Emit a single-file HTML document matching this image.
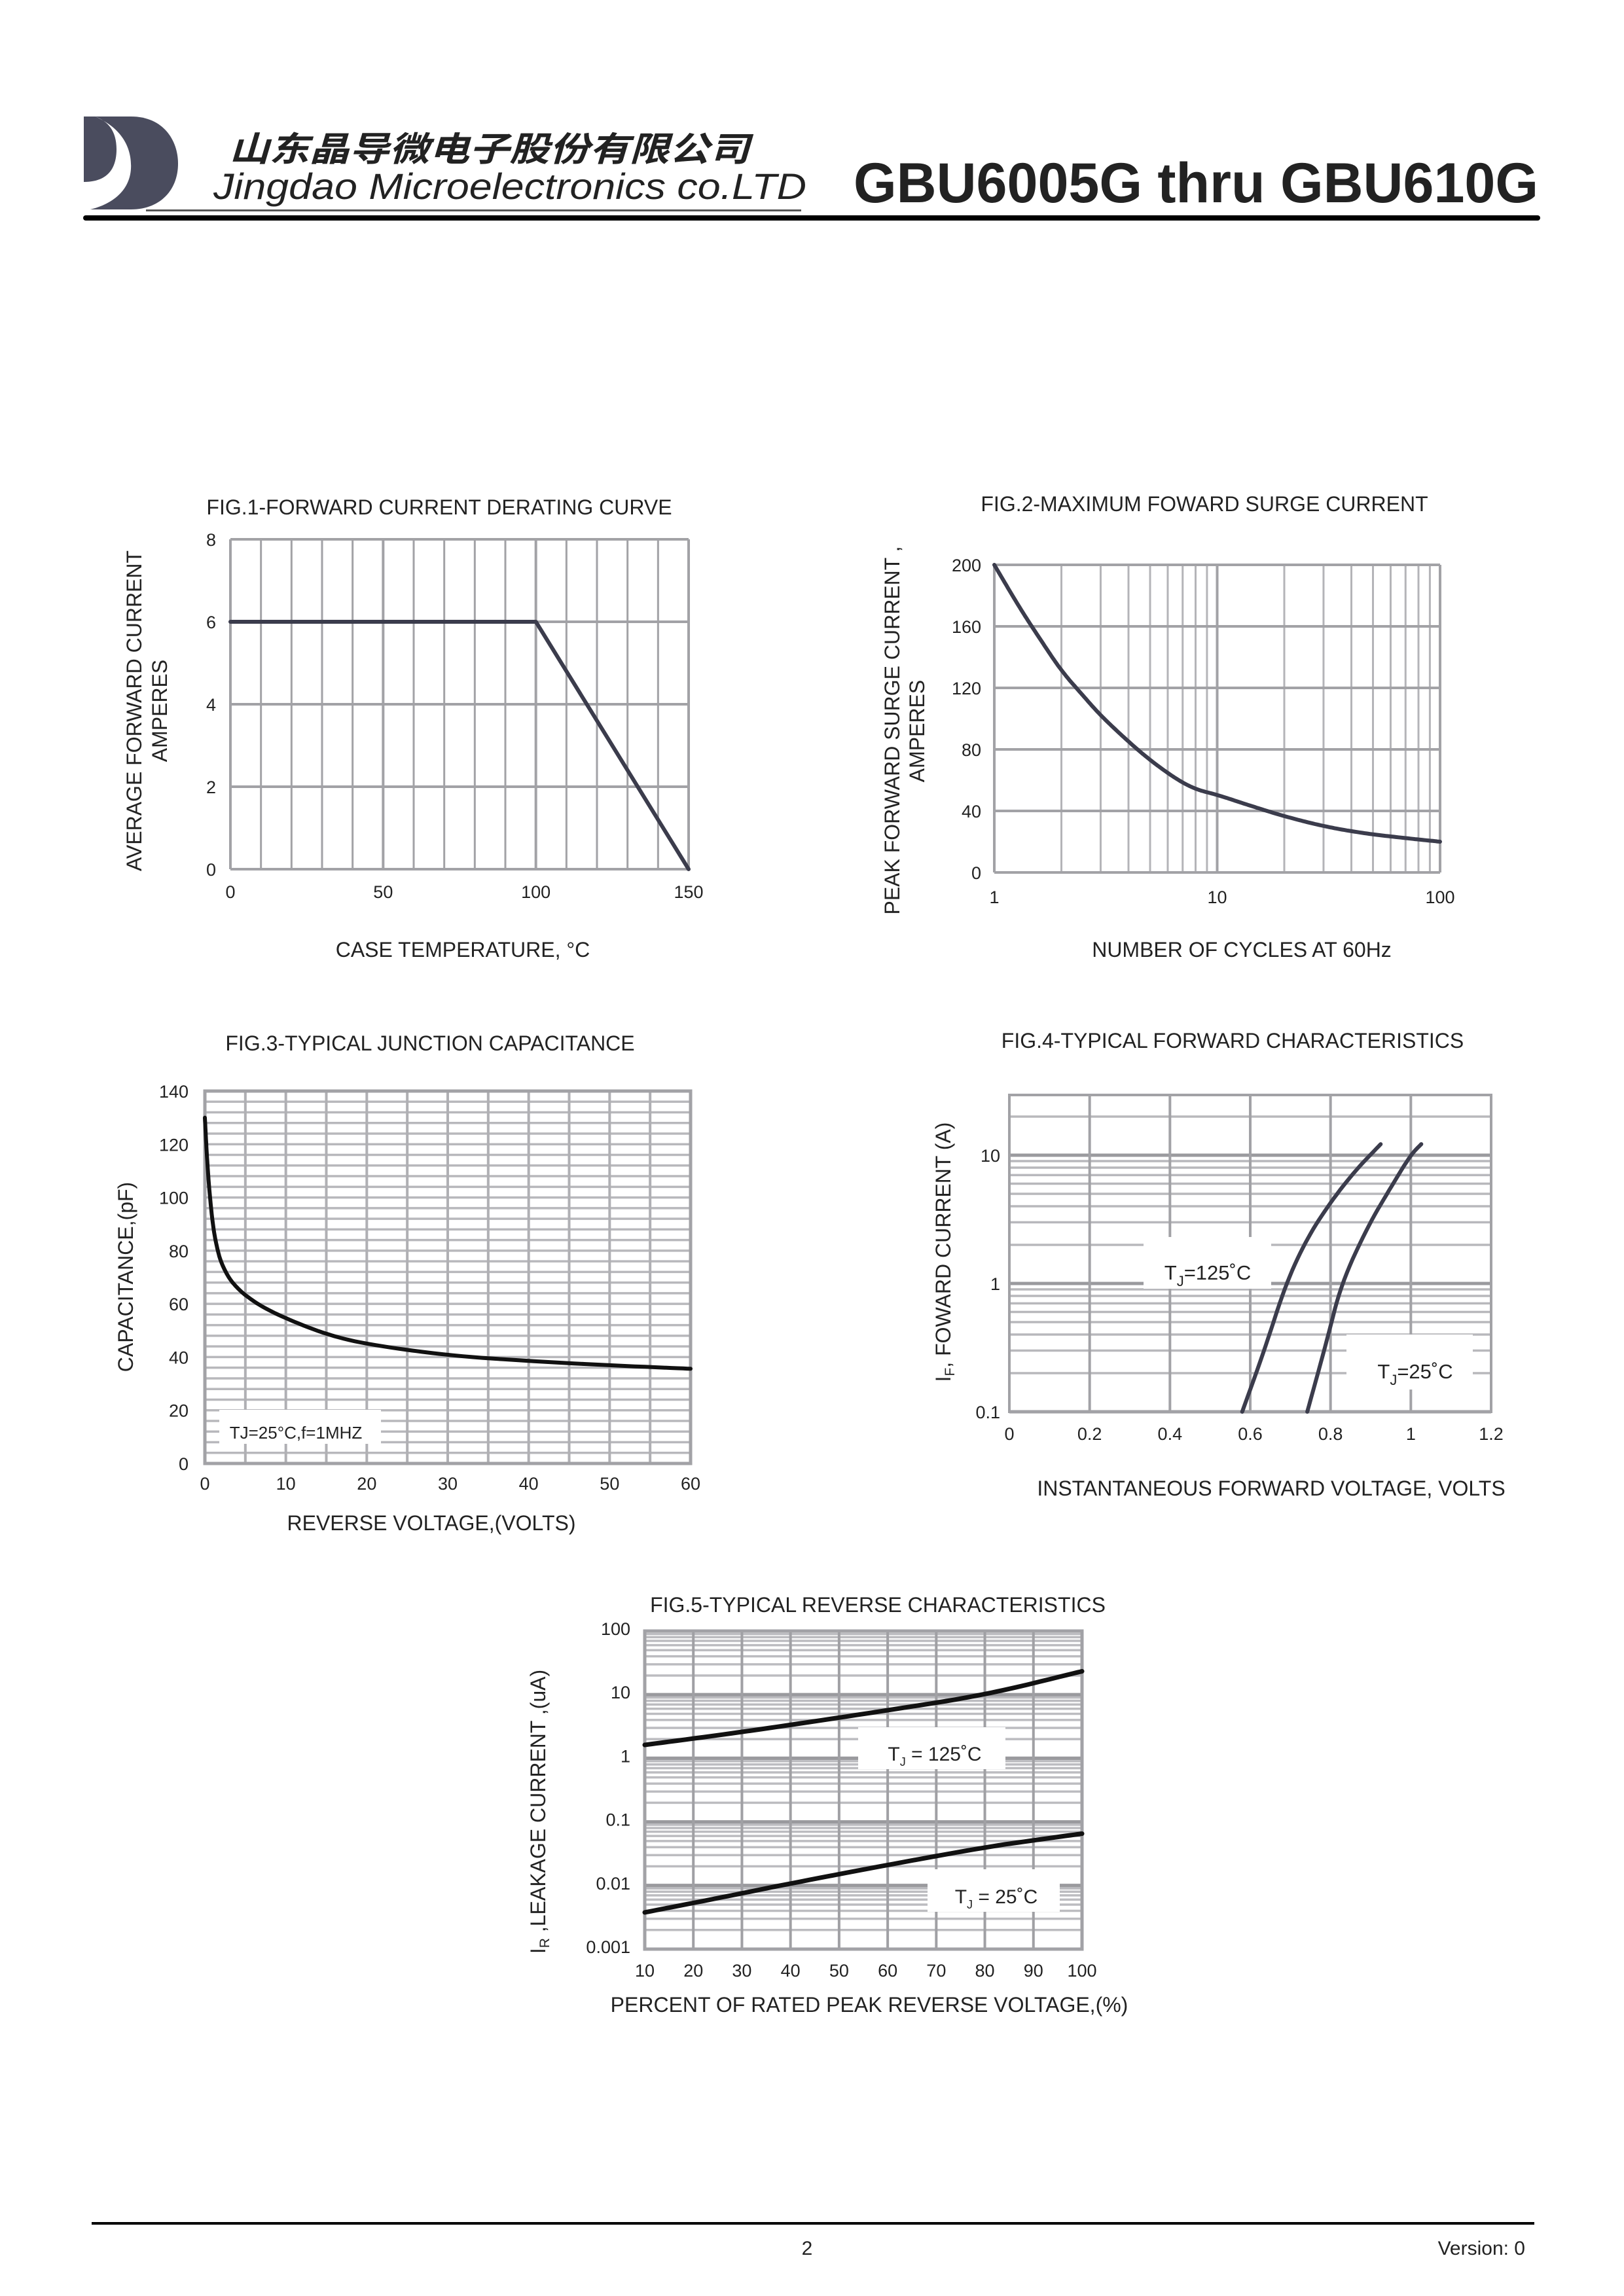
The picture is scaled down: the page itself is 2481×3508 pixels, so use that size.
<!DOCTYPE html>
<html><head><meta charset="utf-8"><style>
html,body{margin:0;padding:0;background:#fff;}
svg{display:block;}
text{font-family:"Liberation Sans",Arial,sans-serif;fill:#222;}
</style></head><body>
<svg id="s" xmlns="http://www.w3.org/2000/svg" width="2481" height="3508" viewBox="0 0 2481 3508">
<rect width="2481" height="3508" fill="#fff"/>
<path d="M128,178 L200,178 C250,178 272,215 272,250 C272,290 245,320 200,320 L128,320 Z" fill="#4a4c5e"/>
<path d="M145,178 C185,195 202,225 200,258 C198,292 170,315 128,322 L128,278 C160,278 178,262 178,228 C178,200 165,185 145,178 Z" fill="#fff"/>
<text x="350" y="246" font-size="52" font-style="italic" font-weight="bold" textLength="795" lengthAdjust="spacingAndGlyphs" style="font-family:'Noto Sans CJK SC','WenQuanYi Zen Hei',sans-serif">山东晶导微电子股份有限公司</text>
<text x="326" y="304" font-size="56" font-style="italic" textLength="906" lengthAdjust="spacingAndGlyphs">Jingdao Microelectronics co.LTD</text>
<rect x="223" y="320" width="1001" height="3" fill="#555"/>
<text x="1304" y="309" font-size="86" font-weight="bold" fill="#000" textLength="1046" lengthAdjust="spacingAndGlyphs">GBU6005G thru GBU610G</text>
<rect x="127" y="329" width="2226" height="8" rx="4" fill="#000"/>
<rect x="140" y="3395" width="2204" height="4" fill="#000"/>
<text x="1233" y="3463" font-size="30" text-anchor="middle" transform="translate(0,-18)">2</text>
<text x="2330" y="3463" font-size="30" text-anchor="end" transform="translate(0,-18)">Version: 0</text>
<g id="g"></g>
</svg>
<script>
var g=document.getElementById('g'),out='';
function L(x1,y1,x2,y2,c,w){out+='<line x1="'+x1+'" y1="'+y1+'" x2="'+x2+'" y2="'+y2+'" stroke="'+c+'" stroke-width="'+w+'"/>';}
function T(x,y,s,sz,a,extra){out+='<text x="'+x+'" y="'+y+'" font-size="'+sz+'" text-anchor="'+(a||'middle')+'" '+(extra||'')+'>'+s+'</text>';}
function R(x,y,w,h){out+='<rect x="'+x+'" y="'+y+'" width="'+w+'" height="'+h+'" fill="#fff"/>';}
function P(pts,c,w){var d='';pts.forEach(function(p,i){d+=(i?'L':'M')+p[0].toFixed(1)+','+p[1].toFixed(1);});out+='<path d="'+d+'" fill="none" stroke="'+c+'" stroke-width="'+w+'" stroke-linejoin="round" stroke-linecap="round"/>';}
function lg(v){return Math.log(v)/Math.LN10;}
function smooth(pts,it){it=it||4;for(var n=0;n<it;n++){var r=[pts[0]];for(var i=0;i<pts.length-1;i++){var a=pts[i],b=pts[i+1];r.push([0.75*a[0]+0.25*b[0],0.75*a[1]+0.25*b[1]]);r.push([0.25*a[0]+0.75*b[0],0.25*a[1]+0.75*b[1]]);}r.push(pts[pts.length-1]);pts=r;}return pts;}
var GC='#a2a2a6',CC='#3b3c4c',TS=32;
// FIG1
(function(){var x0=352,x1=1052,y0=824,y1=1328;function X(v){return x0+v/150*(x1-x0);}function Y(v){return y1-v/8*(y1-y0);}
for(var v=0;v<=150;v+=10)L(X(v),y0,X(v),y1,GC,v%50?3:4);
for(var v=0;v<=8;v+=2){L(x0,Y(v),x1,Y(v),GC,4);T(x0-22,Y(v)+10,v,27,'end');}
[0,50,100,150].forEach(function(v){T(X(v),1372,v,27);});
P([[X(0),Y(6)],[X(100),Y(6)],[X(150),Y(0)]],CC,6);
T(671,786,'FIG.1-FORWARD CURRENT DERATING CURVE',TS);
T(707,1462,'CASE TEMPERATURE, °C',TS);
T(0,0,'AVERAGE FORWARD CURRENT',TS,'middle','transform="translate(216,1086) rotate(-90)"');
T(0,0,'AMPERES',TS,'middle','transform="translate(255,1086) rotate(-90)"');
})();
// FIG2
(function(){var x0=1519,x1=2200,y0=863,y1=1333;function X(n){return x0+lg(n)/2*(x1-x0);}function Y(v){return y1-v/200*(y1-y0);}
[1,10].forEach(function(d){for(var k=1;k<=10;k++)L(X(d*k),y0,X(d*k),y1,k==1||k==10?GC:'#b4b4b8',k==1||k==10?4:3);});
for(var v=0;v<=200;v+=40){L(x0,Y(v),x1,Y(v),GC,4);T(x0-20,Y(v)+10,v,27,'end');}
T(X(1),1380,'1',27);T(X(10),1380,'10',27);T(X(100),1380,'100',27);
var d=[[1,200],[1.3,172],[1.6,152],[2,131],[2.5,115],[3,102],[4,85],[5,73],[6.5,61],[8,54],[10,50.5],[14,43.5],[20,36.5],[30,30],[45,25.5],[70,22.3],[100,20]].map(function(p){return[X(p[0]),Y(p[1])];});
P(smooth(d),CC,6);
T(1840,781,'FIG.2-MAXIMUM FOWARD  SURGE CURRENT',TS);
T(1897,1462,'NUMBER OF CYCLES AT 60Hz',TS);
T(0,0,'PEAK FORWARD SURGE CURRENT ,',TS,'middle','transform="translate(1374,1116) rotate(-90)"');
T(0,0,'AMPERES',TS,'middle','transform="translate(1412,1117) rotate(-90)"');
})();
// FIG3
(function(){var x0=313,x1=1055,y0=1667,y1=2236;function X(v){return x0+v/60*(x1-x0);}function Y(v){return y1-v/140*(y1-y0);}
for(var v=0;v<=140;v+=4)L(x0,Y(v),x1,Y(v),'#b8b8bc',3.5);
for(var v=0;v<=60;v+=5)L(X(v),y0,X(v),y1,'#b0b0b4',4);
out+='<rect x="'+x0+'" y="'+y0+'" width="'+(x1-x0)+'" height="'+(y1-y0)+'" fill="none" stroke="'+GC+'" stroke-width="5"/>';
for(var v=0;v<=140;v+=20)T(288,Y(v)+10,v,27,'end');
for(var v=0;v<=60;v+=10)T(X(v),2276,v,27);
R(335,2154,247,52);T(452,2198,'TJ=25°C,f=1MHZ',26);
var d=[[0,130],[0.2,118],[0.5,104],[1,89],[1.5,81],[2,75.5],[3,69.5],[4,66],[5,63.2],[7,59],[10,54.5],[15,48.5],[20,44.8],[30,40.6],[40,38.5],[50,36.9],[60,35.6]].map(function(p){return[X(p[0]),Y(p[1])];});
P(smooth(d,3),'#111',6);
T(657,1605,'FIG.3-TYPICAL JUNCTION CAPACITANCE',TS);
T(659,2338,'REVERSE VOLTAGE,(VOLTS)',TS);
T(0,0,'CAPACITANCE,(pF)',TS,'middle','transform="translate(203,1951) rotate(-90)"');
})();
// FIG4
(function(){var x0=1542,x1=2278,y0=1673,y1=2157;function X(v){return x0+v/1.2*(x1-x0);}function Y(i){return y1-(lg(i)+1)*196;}
[0.1,1,10].forEach(function(d){for(var k=1;k<=9;k++){var y=Y(d*k);if(y<y0)continue;L(x0,y,x1,y,k==1?'#9a9a9e':'#b8b8bc',k==1?5:3.5);}});
for(var v=0;v<=1.21;v+=0.2)L(X(v),y0,X(v),y1,GC,4);
out+='<rect x="'+x0+'" y="'+y0+'" width="'+(x1-x0)+'" height="'+(y1-y0)+'" fill="none" stroke="'+GC+'" stroke-width="4"/>';
T(1528,Y(10)+10,'10',27,'end');T(1528,Y(1)+10,'1',27,'end');T(1528,Y(0.1)+10,'0.1',27,'end');
['0','0.2','0.4','0.6','0.8','1','1.2'].forEach(function(s,i){T(X(i*0.2),2200,s,27);});
R(1747,1890,195,79);R(2057,2039,193,84);
var a=[[0.58,0.1],[0.635,0.3],[0.689,1],[0.74,2.2],[0.795,4.1],[0.86,7.5],[0.925,12.2]].map(function(p){return[X(p[0]),Y(p[1])];});
var b=[[0.742,0.1],[0.79,0.35],[0.827,1],[0.893,2.8],[0.95,5.6],[0.999,10],[1.026,12.2]].map(function(p){return[X(p[0]),Y(p[1])];});
P(smooth(a,3),CC,6);P(smooth(b,3),CC,6);
T(1845,1955,'T<tspan font-size="22" dy="10">J</tspan><tspan dy="-10">=125˚C</tspan>',31);
T(2162,2106,'T<tspan font-size="22" dy="10">J</tspan><tspan dy="-10">=25˚C</tspan>',31);
T(1883,1601,'FIG.4-TYPICAL FORWARD CHARACTERISTICS',TS);
T(1942,2285,'INSTANTANEOUS FORWARD VOLTAGE, VOLTS',TS);
T(0,0,'I<tspan font-size="21" dy="6">F</tspan><tspan dy="-6">, FOWARD CURRENT (A)</tspan>',TS,'middle','transform="translate(1452,1913) rotate(-90)"');
})();
// FIG5
(function(){var x0=985,x1=1653,y0=2492,y1=2978;function X(p){return x0+(p-10)/90*(x1-x0);}function Y(i){return y1-(lg(i)+3)*97.2;}
[0.001,0.01,0.1,1,10].forEach(function(d){for(var k=1;k<=10;k++){var y=Y(d*k);L(x0,y,x1,y,(k==1||k==10)?'#9a9a9e':'#bcbcc0',(k==1||k==10)?5:3.5);}});
for(var p=10;p<=100;p+=10)L(X(p),y0,X(p),y1,'#a0a0a4',4);
out+='<rect x="'+x0+'" y="'+y0+'" width="'+(x1-x0)+'" height="'+(y1-y0)+'" fill="none" stroke="'+GC+'" stroke-width="5"/>';
['0.001','0.01','0.1','1','10','100'].forEach(function(s,i){T(963,Y(Math.pow(10,i-3))+6,s,27,'end');});
for(var p=10;p<=100;p+=10)T(X(p),3020,p,27);
R(1311,2639,225,64);R(1417,2856,202,65);
var a=[[10,0.21],[25,0.36],[40,0.523],[60,0.754],[80,0.993],[100,1.367]].map(function(p){return[X(p[0]),y1-(p[1]+3)*97.2];});
var b=[[10,-2.423],[25,-2.2],[40,-1.968],[60,-1.676],[80,-1.399],[90,-1.29],[100,-1.185]].map(function(p){return[X(p[0]),y1-(p[1]+3)*97.2];});
P(smooth(a,3),'#111',7);P(smooth(b,3),'#111',7);
T(1428,2690,'T<tspan font-size="18" dy="8">J</tspan><tspan dy="-8"> = 125˚C</tspan>',30);
T(1522,2908,'T<tspan font-size="18" dy="8">J</tspan><tspan dy="-8"> = 25˚C</tspan>',30);
T(1341,2463,'FIG.5-TYPICAL REVERSE CHARACTERISTICS',TS);
T(1328,3074,'PERCENT OF RATED PEAK REVERSE VOLTAGE,(%)',TS);
T(0,0,'I<tspan font-size="21" dy="6">R</tspan><tspan dy="-6"> ,LEAKAGE  CURRENT ,(uA)</tspan>',TS,'middle','transform="translate(833,2768) rotate(-90)"');
})();
g.innerHTML=out;
</script>
</body></html>
